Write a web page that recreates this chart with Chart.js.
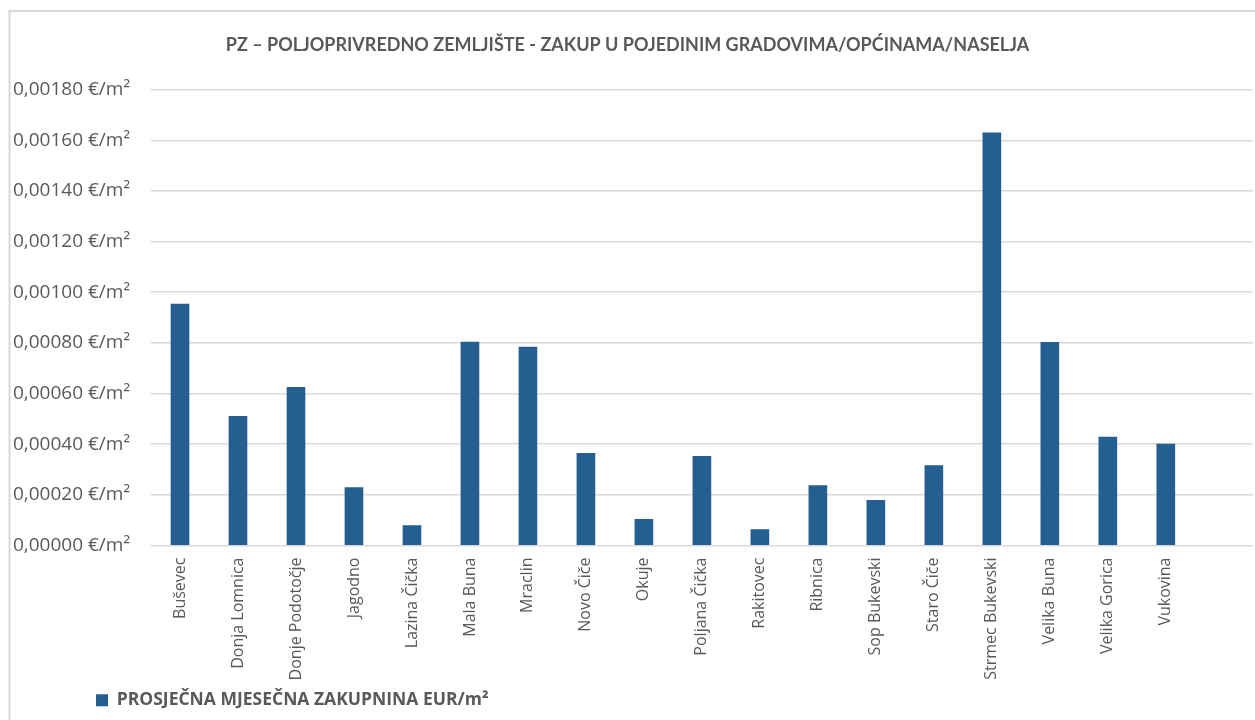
<!DOCTYPE html>
<html>
<head>
<meta charset="utf-8">
<script src="https://cdn.jsdelivr.net/npm/chart.js@4.4.1/dist/chart.umd.min.js"></script>
<style>
  html, body { margin: 0; padding: 0; background: #fff; overflow: hidden; }
  #wrap { width: 1255px; height: 720px; }
</style>
</head>
<body>
<div id="wrap"><canvas id="myChart"></canvas></div>
<script>
// naselja (zadnji stupac je prazan kao u originalu)
const naselja = ['Buševec', 'Donja Lomnica', 'Donje Podotočje', 'Jagodno', 'Lazina Čička', 'Mala Buna',
    'Mraclin', 'Novo Čiče', 'Okuje', 'Poljana Čička', 'Rakitovec', 'Ribnica', 'Sop Bukevski',
    'Staro Čiče', 'Strmec Bukevski', 'Velika Buna', 'Velika Gorica', 'Vukovina', ''];
// prosjecna mjesecna zakupnina EUR/m2
const zakupnina = [0.000953, 0.000510, 0.000624, 0.000229, 0.000079, 0.000803,
    0.000783, 0.000364, 0.000103, 0.000352, 0.000063, 0.000237, 0.000178,
    0.000316, 0.001629, 0.000802, 0.000428, 0.000400, null];
const yMin = 0;
const yMax = 0.0018;
const yKorak = 0.0002;

const siva = '#595959';

// okvir grafikona
const okvir = {
    id: 'okvir',
    beforeDraw(chart) {
        const c = chart.ctx;
        c.save();
        c.fillStyle = '#fff';
        c.fillRect(0, 0, chart.width, chart.height);
        c.strokeStyle = '#d9d9d9';
        c.lineWidth = 2;
        c.strokeRect(9.5, 11, 1400, 900);
        c.restore();
    },
    afterLayout(chart) {
        // legenda pocinje lijevo, ispod osi
        chart.legend.left = 86;
    }
};

const ctx = document.getElementById('myChart');
const myChart = new Chart(ctx, {
    type: 'bar',
    data: {
        labels: naselja,
        datasets: [{
            label: 'PROSJEČNA MJESEČNA ZAKUPNINA EUR/m²',
            data: zakupnina,
            backgroundColor: '#255e91',
            borderWidth: 0,
            barThickness: 18
        }]
    },
    plugins: [okvir],
    options: {
        responsive: true,
        maintainAspectRatio: false,
        animation: false,
        layout: { padding: { left: 0, right: 0, top: 0, bottom: 1 } },
        plugins: {
            title: {
                display: true,
                text: 'PZ – POLJOPRIVREDNO ZEMLJIŠTE - ZAKUP U POJEDINIM GRADOVIMA/OPĆINAMA/NASELJA',
                color: siva,
                font: { family: 'Lato', size: 18, weight: 'bold', lineHeight: 1.2 },
                padding: { top: 34, bottom: 34 }
            },
            legend: {
                position: 'bottom',
                align: 'start',
                labels: {
                    color: siva,
                    boxWidth: 12,
                    boxHeight: 12,
                    padding: 10,
                    font: { family: 'Open Sans', size: 17.5, weight: 'bold' }
                }
            },
            tooltip: { enabled: false }
        },
        scales: {
            x: {
                grid: { display: false, drawTicks: false },
                border: { color: '#d9d9d9', width: 1 },
                ticks: {
                    color: siva,
                    font: { family: 'Open Sans', size: 16 },
                    minRotation: 90,
                    maxRotation: 90,
                    autoSkip: false,
                    padding: 12
                },
                afterFit(scale) { scale.height = 136; }
            },
            y: {
                min: yMin,
                max: yMax,
                grid: { color: '#d9d9d9', lineWidth: 1.5, drawTicks: false },
                border: { display: false },
                ticks: {
                    stepSize: yKorak,
                    color: siva,
                    font: { family: 'Open Sans', size: 19 },
                    padding: 21,
                    callback: (v) => v.toFixed(5).replace('.', ',') + ' €/m²'
                },
                afterFit(scale) { scale.width = 151; }
            }
        }
    }
});
</script>
</body>
</html>
